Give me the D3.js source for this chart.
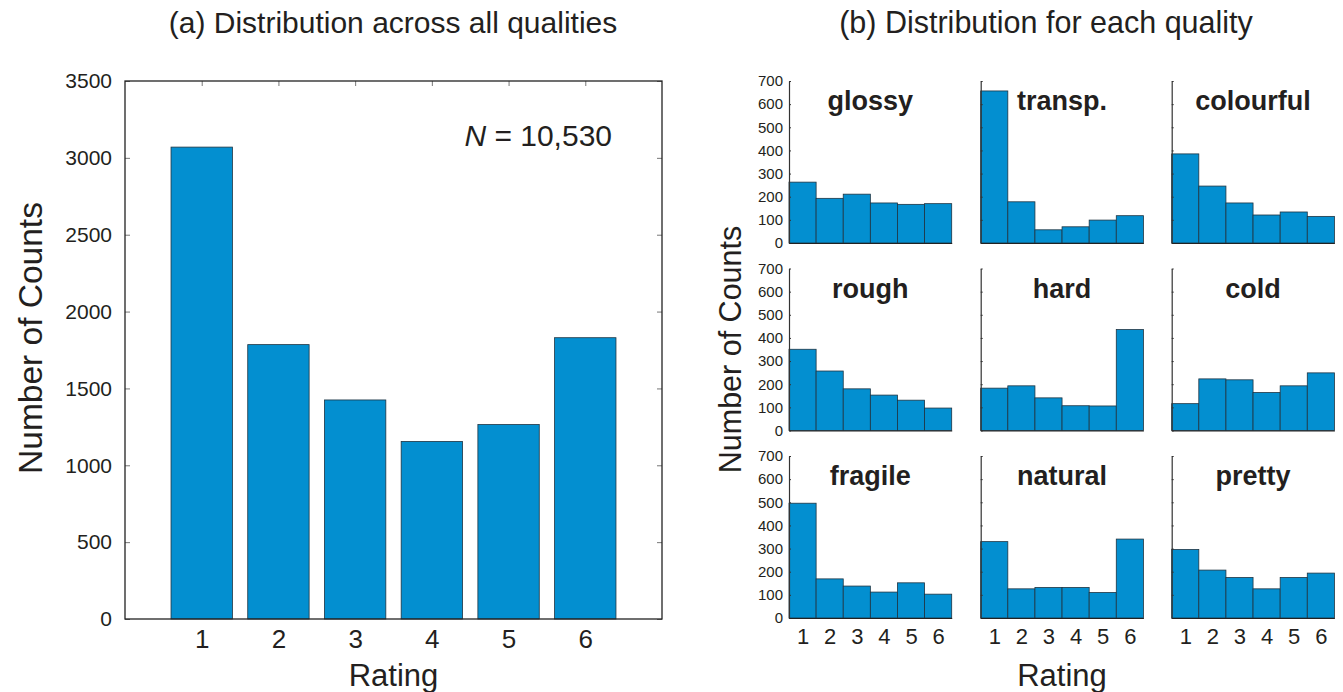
<!DOCTYPE html>
<html>
<head>
<meta charset="utf-8">
<script src="https://cdn.jsdelivr.net/npm/d3@7"></script>
<style>
  html, body { margin: 0; padding: 0; background: #fff; }
  svg { display: block; font-family: "Liberation Sans", Arial, Helvetica, sans-serif; }
  text { fill: #231f20; }
</style>
</head>
<body>
<svg id="chart" width="1343" height="692"></svg>
<script>
// Rating categories (1–6)
const ratings = [1, 2, 3, 4, 5, 6];

// (a) Counts per rating pooled across all qualities
const overallCounts = [3070, 1785, 1425, 1155, 1265, 1830];
const overallTicks = [0, 500, 1000, 1500, 2000, 2500, 3000, 3500];
const totalLabel = "10,530";

// (b) Counts per rating for each quality
const qualities = ["glossy", "transp.", "colourful", "rough", "hard", "cold", "fragile", "natural", "pretty"];
const glossy    = [263, 193, 211, 173, 167, 170];
const transp    = [657, 178,  57,  70,  99, 118];
const colourful = [385, 246, 173, 121, 134, 115];
const rough     = [351, 257, 180, 153, 131,  97];
const hard      = [183, 193, 141, 107, 106, 436];
const cold      = [116, 223, 219, 164, 193, 249];
const fragile   = [496, 169, 138, 112, 152, 103];
const natural   = [330, 126, 132, 132, 110, 341];
const pretty    = [296, 207, 175, 126, 175, 194];
const qualityCounts = [glossy, transp, colourful, rough, hard, cold, fragile, natural, pretty];
const panelTicks = [0, 100, 200, 300, 400, 500, 600, 700];

const BAR = "#038fd0";
const EDGE = "#1f3442";
const INK = "#231f20";

const svg = d3.select("#chart");

// ---------- Panel (a) ----------
const A = { left: 125, right: 662, top: 81, bottom: 619 };
const xA = d3.scaleLinear().domain([0, 7]).range([A.left, A.right]);
const yA = d3.scaleLinear().domain([0, 3500]).range([A.bottom, A.top]);
const barW = 0.8;

const gA = svg.append("g");

gA.selectAll("rect.bar")
  .data(ratings.map((r, i) => ({ r, v: overallCounts[i] })))
  .join("rect")
  .attr("class", "bar")
  .attr("x", d => xA(d.r - barW / 2))
  .attr("width", d => xA(d.r + barW / 2) - xA(d.r - barW / 2))
  .attr("y", d => yA(d.v))
  .attr("height", d => yA(0) - yA(d.v))
  .attr("fill", BAR)
  .attr("stroke", EDGE)
  .attr("stroke-width", 0.8);

// left axis with inward ticks
gA.append("g")
  .attr("transform", `translate(${A.left},0)`)
  .call(d3.axisLeft(yA).tickValues(overallTicks).tickFormat(d3.format("d")).tickSizeInner(-5).tickSizeOuter(0).tickPadding(13))
  .call(g => g.selectAll("text").attr("font-size", 21).attr("fill", INK))
  .call(g => g.selectAll("line").attr("stroke", "#777"))
  .call(g => g.select(".domain").remove());

// right axis ticks (no labels)
gA.append("g")
  .attr("transform", `translate(${A.right},0)`)
  .call(d3.axisRight(yA).tickValues(overallTicks).tickFormat("").tickSizeInner(-5).tickSizeOuter(0))
  .call(g => g.selectAll("line").attr("stroke", "#777"))
  .call(g => g.select(".domain").remove());

// top axis ticks (no labels)
gA.append("g")
  .attr("transform", `translate(0,${A.top})`)
  .call(d3.axisTop(xA).tickValues(ratings).tickFormat("").tickSizeInner(-5).tickSizeOuter(0))
  .call(g => g.selectAll("line").attr("stroke", "#777"))
  .call(g => g.select(".domain").remove());

// bottom axis labels
gA.append("g")
  .attr("transform", `translate(0,${A.bottom})`)
  .call(d3.axisBottom(xA).tickValues(ratings).tickFormat(d3.format("d")).tickSizeInner(0).tickSizeOuter(0).tickPadding(11))
  .call(g => g.selectAll("text").attr("font-size", 26).attr("fill", INK))
  .call(g => g.select(".domain").remove());

// frame
gA.append("rect")
  .attr("x", A.left).attr("y", A.top)
  .attr("width", A.right - A.left).attr("height", A.bottom - A.top)
  .attr("fill", "none").attr("stroke", "#222").attr("stroke-width", 1.3);

// N annotation
const nText = gA.append("text")
  .attr("x", 612).attr("y", 146)
  .attr("text-anchor", "end")
  .attr("font-size", 30);
nText.append("tspan").attr("font-style", "italic").text("N");
nText.append("tspan").text(" = " + totalLabel);

// axis titles and panel heading
gA.append("text")
  .attr("transform", `translate(42,338) rotate(-90)`)
  .attr("text-anchor", "middle")
  .attr("font-size", 33.5)
  .text("Number of Counts");

gA.append("text")
  .attr("x", (A.left + A.right) / 2).attr("y", 686)
  .attr("text-anchor", "middle")
  .attr("font-size", 31)
  .text("Rating");

gA.append("text")
  .attr("x", 393).attr("y", 33)
  .attr("text-anchor", "middle")
  .attr("font-size", 30)
  .text("(a) Distribution across all qualities");

// ---------- Panel (b) ----------
const colX = [789, 980.7, 1171.7];
const panelW = 162.7;
const rowY = [81, 268.5, 456];
const panelH = 162;

const xB = d3.scaleLinear().domain([0.5, 6.5]).range([0, panelW]);
const yB = d3.scaleLinear().domain([0, 700]).range([panelH, 0]);

qualities.forEach((name, qi) => {
  const col = qi % 3, row = Math.floor(qi / 3);
  const g = svg.append("g").attr("transform", `translate(${colX[col]},${rowY[row]})`);
  const vals = qualityCounts[qi];

  g.selectAll("rect")
    .data(ratings.map((r, i) => ({ r, v: vals[i] })))
    .join("rect")
    .attr("x", d => xB(d.r - 0.5))
    .attr("width", d => xB(d.r + 0.5) - xB(d.r - 0.5))
    .attr("y", d => yB(d.v))
    .attr("height", d => yB(0) - yB(d.v))
    .attr("fill", BAR)
    .attr("stroke", EDGE)
    .attr("stroke-width", 0.8);

  // y axis: labels only in the first column
  g.append("g")
    .call(d3.axisLeft(yB).tickValues(panelTicks)
      .tickFormat(col === 0 ? d3.format("d") : "")
      .tickSizeInner(-2).tickSizeOuter(0).tickPadding(6))
    .call(a => a.selectAll("text").attr("font-size", 15).attr("fill", INK))
    .call(a => a.selectAll("line").attr("stroke", "#333"))
    .call(a => a.select(".domain").attr("stroke", "#333").attr("stroke-width", 1.2));

  // x axis: labels only in the bottom row
  g.append("g")
    .attr("transform", `translate(0,${panelH})`)
    .call(d3.axisBottom(xB).tickValues(ratings)
      .tickFormat(row === 2 ? d3.format("d") : "")
      .tickSizeInner(0).tickSizeOuter(0).tickPadding(10))
    .call(a => a.selectAll("text").attr("font-size", 22).attr("fill", INK))
    .call(a => a.select(".domain").attr("stroke", "#222").attr("stroke-width", 1.2));

  g.append("text")
    .attr("x", panelW / 2).attr("y", 29)
    .attr("text-anchor", "middle")
    .attr("font-size", 27)
    .attr("font-weight", "bold")
    .text(name);
});

svg.append("text")
  .attr("transform", `translate(741,${(rowY[0] + rowY[2] + panelH) / 2}) rotate(-90)`)
  .attr("text-anchor", "middle")
  .attr("font-size", 30.5)
  .text("Number of Counts");

svg.append("text")
  .attr("x", colX[1] + panelW / 2).attr("y", 686)
  .attr("text-anchor", "middle")
  .attr("font-size", 31)
  .text("Rating");

svg.append("text")
  .attr("x", 1046).attr("y", 33)
  .attr("text-anchor", "middle")
  .attr("font-size", 30.5)
  .text("(b) Distribution for each quality");
</script>
</body>
</html>
